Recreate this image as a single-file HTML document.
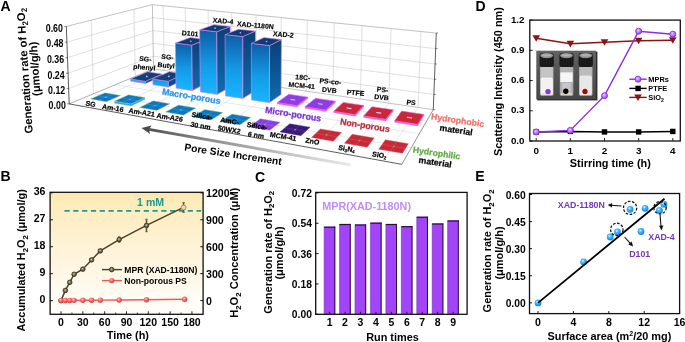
<!DOCTYPE html>
<html><head><meta charset="utf-8"><style>
html,body{margin:0;padding:0;background:#fff;}
body{width:685px;height:342px;overflow:hidden;}
svg{display:block;font-family:"Liberation Sans",sans-serif;will-change:transform;filter:blur(0.3px);}
</style></head><body>
<svg width="685" height="342" viewBox="0 0 685 342" font-family="Liberation Sans, sans-serif">
<rect width="685" height="342" fill="#fff"/>
<text x="0.40" y="10.60" font-size="14" font-weight="bold" fill="#000" text-anchor="start" >A</text>
<g transform="translate(32.8 133.3) rotate(-93.9)"><text x="0" y="0" font-size="11.25" font-weight="bold">Generation rate of H<tspan font-size="7.9" dy="2.5">2</tspan><tspan dy="-2.5">O</tspan><tspan font-size="7.9" dy="2.5">2</tspan></text></g>
<g transform="translate(40.5 95.8) rotate(-93.9)"><text x="0" y="0" font-size="11.25" font-weight="bold">(μmol/g/h)</text></g>
<polygon points="69.19,103.90 66.32,26.44 152.37,4.66 153.60,68.87" fill="#fff" stroke="none" stroke-width="0.5" />
<polygon points="153.60,68.87 152.37,4.66 436.30,33.06 433.28,109.63" fill="#fff" stroke="none" stroke-width="0.5" />
<polygon points="69.19,103.90 153.60,68.87 433.28,109.63 401.76,164.33" fill="#fff" stroke="none" stroke-width="0.5" />
<line x1="68.63" y1="88.61" x2="153.35" y2="56.16" stroke="#c4c4c4" stroke-width="0.55" />
<line x1="153.35" y1="56.16" x2="433.88" y2="94.51" stroke="#c4c4c4" stroke-width="0.55" />
<line x1="68.06" y1="73.22" x2="153.11" y2="43.39" stroke="#c4c4c4" stroke-width="0.55" />
<line x1="153.11" y1="43.39" x2="434.48" y2="79.30" stroke="#c4c4c4" stroke-width="0.55" />
<line x1="67.48" y1="57.72" x2="152.86" y2="30.55" stroke="#c4c4c4" stroke-width="0.55" />
<line x1="152.86" y1="30.55" x2="435.08" y2="63.98" stroke="#c4c4c4" stroke-width="0.55" />
<line x1="66.91" y1="42.13" x2="152.61" y2="17.64" stroke="#c4c4c4" stroke-width="0.55" />
<line x1="152.61" y1="17.64" x2="435.69" y2="48.57" stroke="#c4c4c4" stroke-width="0.55" />
<line x1="66.32" y1="26.44" x2="152.37" y2="4.66" stroke="#999" stroke-width="0.6" />
<line x1="152.37" y1="4.66" x2="436.30" y2="33.06" stroke="#999" stroke-width="0.6" />
<line x1="93.48" y1="93.82" x2="91.13" y2="20.16" stroke="#c4c4c4" stroke-width="0.55" />
<line x1="135.39" y1="76.42" x2="133.85" y2="9.35" stroke="#c4c4c4" stroke-width="0.55" />
<line x1="164.27" y1="70.42" x2="163.18" y2="5.74" stroke="#c4c4c4" stroke-width="0.55" />
<line x1="186.13" y1="73.61" x2="185.31" y2="7.96" stroke="#c4c4c4" stroke-width="0.55" />
<line x1="208.67" y1="76.89" x2="208.15" y2="10.24" stroke="#c4c4c4" stroke-width="0.55" />
<line x1="231.93" y1="80.28" x2="231.73" y2="12.60" stroke="#c4c4c4" stroke-width="0.55" />
<line x1="255.94" y1="83.78" x2="256.09" y2="15.04" stroke="#c4c4c4" stroke-width="0.55" />
<line x1="280.75" y1="87.40" x2="281.26" y2="17.55" stroke="#c4c4c4" stroke-width="0.55" />
<line x1="306.39" y1="91.14" x2="307.29" y2="20.16" stroke="#c4c4c4" stroke-width="0.55" />
<line x1="332.90" y1="95.00" x2="334.22" y2="22.85" stroke="#c4c4c4" stroke-width="0.55" />
<line x1="360.34" y1="99.00" x2="362.11" y2="25.64" stroke="#c4c4c4" stroke-width="0.55" />
<line x1="388.74" y1="103.14" x2="390.99" y2="28.53" stroke="#c4c4c4" stroke-width="0.55" />
<line x1="418.17" y1="107.43" x2="420.92" y2="31.52" stroke="#c4c4c4" stroke-width="0.55" />
<line x1="153.60" y1="68.87" x2="152.37" y2="4.66" stroke="#999" stroke-width="0.6" />
<line x1="81.37" y1="106.11" x2="164.27" y2="70.42" stroke="#d0d0d0" stroke-width="0.5" />
<line x1="106.42" y1="110.66" x2="186.13" y2="73.61" stroke="#d0d0d0" stroke-width="0.5" />
<line x1="132.43" y1="115.39" x2="208.67" y2="76.89" stroke="#d0d0d0" stroke-width="0.5" />
<line x1="159.47" y1="120.30" x2="231.93" y2="80.28" stroke="#d0d0d0" stroke-width="0.5" />
<line x1="187.58" y1="125.41" x2="255.94" y2="83.78" stroke="#d0d0d0" stroke-width="0.5" />
<line x1="216.83" y1="130.72" x2="280.75" y2="87.40" stroke="#d0d0d0" stroke-width="0.5" />
<line x1="247.31" y1="136.26" x2="306.39" y2="91.14" stroke="#d0d0d0" stroke-width="0.5" />
<line x1="279.08" y1="142.03" x2="332.90" y2="95.00" stroke="#d0d0d0" stroke-width="0.5" />
<line x1="312.23" y1="148.06" x2="360.34" y2="99.00" stroke="#d0d0d0" stroke-width="0.5" />
<line x1="346.85" y1="154.35" x2="388.74" y2="103.14" stroke="#d0d0d0" stroke-width="0.5" />
<line x1="383.04" y1="160.92" x2="418.17" y2="107.43" stroke="#d0d0d0" stroke-width="0.5" />
<line x1="93.48" y1="93.82" x2="411.11" y2="148.10" stroke="#d0d0d0" stroke-width="0.5" />
<line x1="115.44" y1="84.71" x2="419.37" y2="133.78" stroke="#d0d0d0" stroke-width="0.5" />
<line x1="135.39" y1="76.42" x2="426.71" y2="121.04" stroke="#d0d0d0" stroke-width="0.5" />
<line x1="69.19" y1="103.90" x2="153.60" y2="68.87" stroke="#777" stroke-width="0.6" />
<line x1="153.60" y1="68.87" x2="433.28" y2="109.63" stroke="#999" stroke-width="0.6" />
<line x1="433.28" y1="109.63" x2="401.76" y2="164.33" stroke="#666" stroke-width="0.7" />
<line x1="69.19" y1="103.90" x2="401.76" y2="164.33" stroke="#333" stroke-width="0.8" />
<line x1="69.19" y1="103.90" x2="66.32" y2="26.44" stroke="#333" stroke-width="0.8" />
<line x1="433.28" y1="109.63" x2="436.30" y2="33.06" stroke="#333" stroke-width="0.8" />
<line x1="433.28" y1="109.63" x2="435.08" y2="109.63" stroke="#333" stroke-width="0.6" />
<line x1="433.88" y1="94.51" x2="435.68" y2="94.51" stroke="#333" stroke-width="0.6" />
<line x1="434.48" y1="79.30" x2="436.28" y2="79.30" stroke="#333" stroke-width="0.6" />
<line x1="435.08" y1="63.98" x2="436.88" y2="63.98" stroke="#333" stroke-width="0.6" />
<line x1="435.69" y1="48.57" x2="437.49" y2="48.57" stroke="#333" stroke-width="0.6" />
<line x1="436.30" y1="33.06" x2="438.10" y2="33.06" stroke="#333" stroke-width="0.6" />
<line x1="67.19" y1="103.90" x2="69.19" y2="103.90" stroke="#333" stroke-width="0.6" />
<g transform="translate(65.79 109.20) scale(0.96 1.1)"><text x="0" y="0" font-size="9.2" font-weight="bold" text-anchor="end">0.00</text></g>
<line x1="66.63" y1="88.61" x2="68.63" y2="88.61" stroke="#333" stroke-width="0.6" />
<g transform="translate(65.23 93.91) scale(0.96 1.1)"><text x="0" y="0" font-size="9.2" font-weight="bold" text-anchor="end">0.12</text></g>
<line x1="66.06" y1="73.22" x2="68.06" y2="73.22" stroke="#333" stroke-width="0.6" />
<g transform="translate(64.66 78.52) scale(0.96 1.1)"><text x="0" y="0" font-size="9.2" font-weight="bold" text-anchor="end">0.24</text></g>
<line x1="65.48" y1="57.72" x2="67.48" y2="57.72" stroke="#333" stroke-width="0.6" />
<g transform="translate(64.08 63.02) scale(0.96 1.1)"><text x="0" y="0" font-size="9.2" font-weight="bold" text-anchor="end">0.36</text></g>
<line x1="64.91" y1="42.13" x2="66.91" y2="42.13" stroke="#333" stroke-width="0.6" />
<g transform="translate(63.51 47.43) scale(0.96 1.1)"><text x="0" y="0" font-size="9.2" font-weight="bold" text-anchor="end">0.48</text></g>
<line x1="64.32" y1="26.44" x2="66.32" y2="26.44" stroke="#333" stroke-width="0.6" />
<g transform="translate(62.92 32.44) scale(0.96 1.1)"><text x="0" y="0" font-size="9.2" font-weight="bold" text-anchor="end">0.60</text></g>
<defs><linearGradient id="barF" x1="0" y1="0" x2="0" y2="1"><stop offset="0" stop-color="#0e5da8"/><stop offset="0.55" stop-color="#139be6"/><stop offset="1" stop-color="#19b6ff"/></linearGradient><linearGradient id="barF2" x1="0" y1="0" x2="0" y2="1"><stop offset="0" stop-color="#1590e0"/><stop offset="1" stop-color="#1cb4ff"/></linearGradient><linearGradient id="barS" x1="0" y1="0" x2="0" y2="1"><stop offset="0" stop-color="#0a3f78"/><stop offset="1" stop-color="#0f6cb0"/></linearGradient><linearGradient id="arrowG" x1="0" y1="0" x2="1" y2="0"><stop offset="0" stop-color="#505050"/><stop offset="0.3" stop-color="#8c8c8c"/><stop offset="0.7" stop-color="#c4c4c4"/><stop offset="1" stop-color="#e8e8e8"/></linearGradient></defs>
<polygon points="145.49,83.59 162.14,76.21 162.10,74.02 145.44,81.30" fill="#0a3f78" stroke="#e884f0" stroke-width="0.5" />
<polygon points="130.55,81.24 145.49,83.59 145.44,81.30 130.50,78.98" fill="#18a8f4" stroke="#e884f0" stroke-width="0.5" />
<polygon points="130.50,78.98 145.44,81.30 162.10,74.02 147.59,71.86" fill="#0c4478" stroke="#e884f0" stroke-width="0.5" />
<polygon points="168.28,87.17 184.24,79.53 184.17,73.95 168.18,81.36" fill="#0a4a88" stroke="#e884f0" stroke-width="0.5" />
<polygon points="152.85,84.74 168.28,87.17 168.18,81.36 152.74,78.99" fill="url(#barF2)" stroke="#e884f0" stroke-width="0.5" />
<polygon points="152.74,78.99 168.18,81.36 184.17,73.95 169.19,71.76" fill="#0c4478" stroke="#e884f0" stroke-width="0.5" />
<circle cx="146.73" cy="76.38" r="0.9" fill="#f0a0f8"/>
<circle cx="168.88" cy="76.35" r="0.9" fill="#f0a0f8"/>
<polygon points="192.17,90.69 206.39,83.29 206.03,39.49 191.66,45.14" fill="url(#barS)" stroke="#e884f0" stroke-width="0.6" />
<polygon points="176.00,88.15 192.17,90.69 191.66,45.14 175.35,43.09" fill="url(#barF)" stroke="#e884f0" stroke-width="0.6" />
<polygon points="175.35,43.09 191.66,45.14 206.03,39.49 190.20,37.59" fill="#0b3d74" stroke="#e884f0" stroke-width="0.6" />
<circle cx="190.80" cy="41.25" r="0.8" fill="#f0a0f8"/>
<polygon points="217.00,94.58 230.46,86.91 230.27,26.53 216.62,31.75" fill="url(#barS)" stroke="#e884f0" stroke-width="0.6" />
<polygon points="200.27,91.96 217.00,94.58 216.62,31.75 199.68,29.81" fill="url(#barF)" stroke="#e884f0" stroke-width="0.6" />
<polygon points="199.68,29.81 216.62,31.75 230.27,26.53 213.86,24.73" fill="#0b3d74" stroke="#e884f0" stroke-width="0.6" />
<circle cx="215.08" cy="28.13" r="0.8" fill="#f0a0f8"/>
<polygon points="242.70,98.62 255.33,90.65 255.45,31.09 242.66,36.59" fill="url(#barS)" stroke="#e884f0" stroke-width="0.6" />
<polygon points="225.38,95.90 242.70,98.62 242.66,36.59 225.12,34.57" fill="url(#barF)" stroke="#e884f0" stroke-width="0.6" />
<polygon points="225.12,34.57 242.66,36.59 255.45,31.09 238.49,29.21" fill="#0b3d74" stroke="#e884f0" stroke-width="0.6" />
<circle cx="240.39" cy="32.79" r="0.8" fill="#f0a0f8"/>
<polygon points="269.31,102.80 281.06,94.52 281.47,39.57 269.60,45.54" fill="url(#barS)" stroke="#e884f0" stroke-width="0.6" />
<polygon points="251.37,99.98 269.31,102.80 269.60,45.54 251.45,43.38" fill="url(#barF)" stroke="#e884f0" stroke-width="0.6" />
<polygon points="251.45,43.38 269.60,45.54 281.47,39.57 263.93,37.57" fill="#0b3d74" stroke="#e884f0" stroke-width="0.6" />
<circle cx="266.55" cy="41.43" r="0.8" fill="#f0a0f8"/>
<g transform="translate(0.3 1.0)">
<polygon points="276.98,102.99 296.84,106.10 307.58,97.58 307.60,96.13 296.86,104.59 276.99,101.51" fill="#f060d8" stroke="#f060d8" stroke-width="0.36" />
<polygon points="276.99,101.51 296.86,104.59 307.60,96.13 288.42,93.28" fill="#8a3ee6" stroke="#f060d8" stroke-width="0.6" />
<line x1="290.63" y1="98.49" x2="294.42" y2="99.07" stroke="#f8c8f4" stroke-width="1.1" stroke-linecap="round"/>
<polygon points="304.71,107.33 325.30,110.55 335.01,101.69 335.04,100.22 325.33,109.02 304.73,105.82" fill="#f060d8" stroke="#f060d8" stroke-width="0.36" />
<polygon points="304.73,105.82 325.33,109.02 335.04,100.22 315.18,97.26" fill="#8a3ee6" stroke="#f060d8" stroke-width="0.6" />
<line x1="318.15" y1="102.68" x2="322.08" y2="103.27" stroke="#f8c8f4" stroke-width="1.1" stroke-linecap="round"/>
<polygon points="333.46,111.82 354.83,115.17 363.43,105.94 363.47,104.45 354.87,113.61 333.49,110.29" fill="#f060d8" stroke="#f060d8" stroke-width="0.36" />
<polygon points="333.49,110.29 354.87,113.61 363.47,104.45 342.90,101.39" fill="#c8283a" stroke="#f060d8" stroke-width="0.6" />
<line x1="346.68" y1="107.01" x2="350.75" y2="107.63" stroke="#f8c8f4" stroke-width="1.1" stroke-linecap="round"/>
<polygon points="363.30,116.49 385.49,119.96 392.89,110.35 392.93,108.83 385.54,118.37 363.34,114.92" fill="#f060d8" stroke="#f060d8" stroke-width="0.36" />
<polygon points="363.34,114.92 385.54,118.37 392.93,108.83 371.61,105.66" fill="#c8283a" stroke="#f060d8" stroke-width="0.6" />
<line x1="376.26" y1="111.51" x2="380.49" y2="112.15" stroke="#f8c8f4" stroke-width="1.1" stroke-linecap="round"/>
<polygon points="394.29,121.33 417.35,124.94 423.44,114.93 423.50,113.38 417.41,123.32 394.34,119.74" fill="#f060d8" stroke="#f060d8" stroke-width="0.36" />
<polygon points="394.34,119.74 417.41,123.32 423.50,113.38 401.38,110.09" fill="#c8283a" stroke="#f060d8" stroke-width="0.6" />
<line x1="406.96" y1="116.18" x2="411.35" y2="116.84" stroke="#f8c8f4" stroke-width="1.1" stroke-linecap="round"/>
</g>
<g transform="translate(0.8 1.4)">
<polygon points="89.52,97.55 105.61,100.35 119.95,94.03 104.21,91.39" fill="#0a78c8" stroke="#c8d850" stroke-width="0.4" />
<line x1="97.52" y1="98.94" x2="112.04" y2="92.70" stroke="#5aa0e0" stroke-width="0.35" />
<line x1="96.99" y1="94.42" x2="112.90" y2="97.14" stroke="#5aa0e0" stroke-width="0.35" />
<circle cx="104.90" cy="95.77" r="0.9" fill="#80b030"/>
<polygon points="113.67,101.76 130.35,104.66 144.14,98.08 144.10,96.12 130.30,102.63 113.62,99.75" fill="#20a8f0" stroke="#c8d850" stroke-width="0.24" />
<polygon points="113.62,99.75 130.30,102.63 144.10,96.12 127.79,93.41" fill="#0a78c8" stroke="#c8d850" stroke-width="0.4" />
<line x1="121.91" y1="101.19" x2="135.90" y2="94.76" stroke="#5aa0e0" stroke-width="0.35" />
<line x1="120.82" y1="96.53" x2="137.31" y2="99.32" stroke="#5aa0e0" stroke-width="0.35" />
<circle cx="129.02" cy="97.92" r="0.9" fill="#80b030"/>
<polygon points="138.71,106.12 156.01,109.13 169.19,102.29 152.31,99.45" fill="#0a78c8" stroke="#c8d850" stroke-width="0.4" />
<line x1="147.31" y1="107.62" x2="160.70" y2="100.86" stroke="#5aa0e0" stroke-width="0.35" />
<line x1="145.62" y1="102.73" x2="162.71" y2="105.65" stroke="#5aa0e0" stroke-width="0.35" />
<circle cx="154.12" cy="104.18" r="0.9" fill="#80b030"/>
<polygon points="164.69,110.64 182.64,113.77 195.17,106.64 177.66,103.71" fill="#0a78c8" stroke="#c8d850" stroke-width="0.4" />
<line x1="173.61" y1="112.20" x2="186.36" y2="105.17" stroke="#5aa0e0" stroke-width="0.35" />
<line x1="171.29" y1="107.12" x2="189.01" y2="110.15" stroke="#5aa0e0" stroke-width="0.35" />
<circle cx="180.09" cy="108.62" r="0.9" fill="#80b030"/>
<polygon points="191.66,115.34 210.31,118.59 222.11,111.16 203.95,108.12" fill="#0a78c8" stroke="#c8d850" stroke-width="0.4" />
<line x1="200.92" y1="116.96" x2="212.97" y2="109.63" stroke="#5aa0e0" stroke-width="0.35" />
<line x1="197.91" y1="111.67" x2="216.31" y2="114.81" stroke="#5aa0e0" stroke-width="0.35" />
<circle cx="207.05" cy="113.23" r="0.9" fill="#80b030"/>
<polygon points="219.68,120.22 239.07,123.60 250.08,115.85 231.22,112.69" fill="#0a78c8" stroke="#c8d850" stroke-width="0.4" />
<line x1="229.31" y1="121.90" x2="240.59" y2="114.26" stroke="#5aa0e0" stroke-width="0.35" />
<line x1="225.55" y1="116.39" x2="244.67" y2="119.66" stroke="#5aa0e0" stroke-width="0.35" />
<circle cx="235.05" cy="118.01" r="0.9" fill="#80b030"/>
<polygon points="248.81,125.30 268.98,128.81 279.13,120.73 259.54,117.44" fill="#8a3ee6" stroke="#a070e0" stroke-width="0.4" />
<line x1="258.83" y1="127.04" x2="269.28" y2="119.07" stroke="#b088f0" stroke-width="0.35" />
<line x1="254.27" y1="121.30" x2="274.15" y2="124.69" stroke="#b088f0" stroke-width="0.35" />
<circle cx="264.15" cy="122.99" r="0.9" fill="#80b030"/>
<polygon points="279.12,130.58 300.12,134.23 309.34,125.79 288.97,122.38" fill="#3b1a7a" stroke="#6040a0" stroke-width="0.4" />
<line x1="289.55" y1="132.39" x2="299.09" y2="124.07" stroke="#7a5ab0" stroke-width="0.35" />
<line x1="284.14" y1="126.40" x2="304.82" y2="129.94" stroke="#7a5ab0" stroke-width="0.35" />
<circle cx="294.41" cy="128.16" r="0.9" fill="#80b030"/>
<polygon points="310.68,136.07 332.57,139.89 340.76,131.06 319.57,127.51" fill="#c8283a" stroke="#d86050" stroke-width="0.4" />
<line x1="321.55" y1="137.97" x2="330.09" y2="129.28" stroke="#e07070" stroke-width="0.35" />
<line x1="315.21" y1="131.71" x2="336.74" y2="135.39" stroke="#e07070" stroke-width="0.35" />
<circle cx="325.90" cy="133.54" r="0.9" fill="#80b030"/>
<polygon points="343.58,141.80 366.41,145.78 373.48,136.55 351.41,132.85" fill="#c8283a" stroke="#d86050" stroke-width="0.4" />
<line x1="354.91" y1="143.78" x2="362.37" y2="134.69" stroke="#e07070" stroke-width="0.35" />
<line x1="347.57" y1="137.24" x2="370.01" y2="141.08" stroke="#e07070" stroke-width="0.35" />
<circle cx="358.71" cy="139.15" r="0.9" fill="#80b030"/>
<polygon points="377.90,147.78 401.73,151.93 407.57,142.27 384.57,138.41" fill="#c8283a" stroke="#d86050" stroke-width="0.4" />
<line x1="389.73" y1="149.84" x2="395.99" y2="140.33" stroke="#e07070" stroke-width="0.35" />
<line x1="381.30" y1="143.01" x2="404.71" y2="147.01" stroke="#e07070" stroke-width="0.35" />
<circle cx="392.92" cy="144.99" r="0.9" fill="#80b030"/>
</g>
<g transform="translate(90.60 104.00) rotate(9.0) skewX(-2) scale(1 1)"><text x="0" y="2.45" font-size="7.0" font-weight="bold" fill="#000" text-anchor="middle" stroke="#000" stroke-width="0.22">SG</text></g>
<g transform="translate(112.90 108.00) rotate(9.0) skewX(-2) scale(1 1)"><text x="0" y="2.45" font-size="7.0" font-weight="bold" fill="#000" text-anchor="middle" stroke="#000" stroke-width="0.22">Am-16</text></g>
<g transform="translate(141.70 112.30) rotate(9.0) skewX(-2) scale(1 1)"><text x="0" y="2.45" font-size="7.0" font-weight="bold" fill="#000" text-anchor="middle" stroke="#000" stroke-width="0.22">Am-A21</text></g>
<g transform="translate(169.70 117.30) rotate(9.0) skewX(-2) scale(1 1)"><text x="0" y="2.45" font-size="7.0" font-weight="bold" fill="#000" text-anchor="middle" stroke="#000" stroke-width="0.22">Am-A26</text></g>
<g transform="translate(202.00 116.00) rotate(9.0) skewX(-2) scale(1 1)"><text x="0" y="2.45" font-size="7.0" font-weight="bold" fill="#000" text-anchor="middle" stroke="#000" stroke-width="0.22">Silica-</text></g>
<g transform="translate(200.70 125.70) rotate(9.0) skewX(-2) scale(1 1)"><text x="0" y="2.45" font-size="7.0" font-weight="bold" fill="#000" text-anchor="middle" stroke="#000" stroke-width="0.22">30 nm</text></g>
<g transform="translate(229.70 121.00) rotate(9.0) skewX(-2) scale(1 1)"><text x="0" y="2.45" font-size="7.0" font-weight="bold" fill="#000" text-anchor="middle" stroke="#000" stroke-width="0.22">AmC-</text></g>
<g transform="translate(229.20 129.60) rotate(9.0) skewX(-2) scale(1 1)"><text x="0" y="2.45" font-size="7.0" font-weight="bold" fill="#000" text-anchor="middle" stroke="#000" stroke-width="0.22">50WX2</text></g>
<g transform="translate(257.20 126.00) rotate(9.0) skewX(-2) scale(1 1)"><text x="0" y="2.45" font-size="7.0" font-weight="bold" fill="#000" text-anchor="middle" stroke="#000" stroke-width="0.22">Silica-</text></g>
<g transform="translate(256.00 135.00) rotate(9.0) skewX(-2) scale(1 1)"><text x="0" y="2.45" font-size="7.0" font-weight="bold" fill="#000" text-anchor="middle" stroke="#000" stroke-width="0.22">6 nm</text></g>
<g transform="translate(283.10 136.50) rotate(9.0) skewX(-2) scale(1 1)"><text x="0" y="2.45" font-size="7.0" font-weight="bold" fill="#000" text-anchor="middle" stroke="#000" stroke-width="0.22">MCM-41</text></g>
<g transform="translate(312.50 141.30) rotate(9.0) skewX(-2) scale(1 1)"><text x="0" y="2.45" font-size="7.0" font-weight="bold" fill="#000" text-anchor="middle" stroke="#000" stroke-width="0.22">ZnO</text></g>
<g transform="translate(346.70 148.60) rotate(9.0) skewX(-2) scale(1 1)"><text x="0" y="2.45" font-size="7.0" font-weight="bold" fill="#000" text-anchor="middle" stroke="#000" stroke-width="0.22">Si<tspan font-size="4.5" dy="1.2">3</tspan><tspan dy="-1.2">N</tspan><tspan font-size="4.5" dy="1.2">4</tspan></text></g>
<g transform="translate(379.50 154.90) rotate(9.0) skewX(-2) scale(1 1)"><text x="0" y="2.45" font-size="7.0" font-weight="bold" fill="#000" text-anchor="middle" stroke="#000" stroke-width="0.22">SiO<tspan font-size="4.5" dy="1.2">2</tspan></text></g>
<g transform="translate(145.40 59.00) rotate(5) skewX(-2) scale(1 1)"><text x="0" y="2.42" font-size="6.9" font-weight="bold" fill="#000" text-anchor="middle" stroke="#000" stroke-width="0.15">SG-</text></g>
<g transform="translate(144.30 67.20) rotate(5) skewX(-2) scale(1 1)"><text x="0" y="2.42" font-size="6.9" font-weight="bold" fill="#000" text-anchor="middle" stroke="#000" stroke-width="0.15">phenyl</text></g>
<g transform="translate(167.50 56.90) rotate(5) skewX(-2) scale(1 1)"><text x="0" y="2.42" font-size="6.9" font-weight="bold" fill="#000" text-anchor="middle" stroke="#000" stroke-width="0.15">SG-</text></g>
<g transform="translate(166.20 65.30) rotate(5) skewX(-2) scale(1 1)"><text x="0" y="2.42" font-size="6.9" font-weight="bold" fill="#000" text-anchor="middle" stroke="#000" stroke-width="0.15">Butyl</text></g>
<g transform="translate(190.10 33.50) rotate(5) skewX(-2) scale(1 1)"><text x="0" y="2.42" font-size="6.9" font-weight="bold" fill="#000" text-anchor="middle" stroke="#000" stroke-width="0.15">D101</text></g>
<g transform="translate(223.00 21.00) rotate(5) skewX(-2) scale(1 1)"><text x="0" y="2.42" font-size="6.9" font-weight="bold" fill="#000" text-anchor="middle" stroke="#000" stroke-width="0.15">XAD-4</text></g>
<g transform="translate(255.40 25.30) rotate(5) skewX(-2) scale(1 1)"><text x="0" y="2.42" font-size="6.9" font-weight="bold" fill="#000" text-anchor="middle" stroke="#000" stroke-width="0.15">XAD-1180N</text></g>
<g transform="translate(283.30 34.50) rotate(5) skewX(-2) scale(1 1)"><text x="0" y="2.42" font-size="6.9" font-weight="bold" fill="#000" text-anchor="middle" stroke="#000" stroke-width="0.15">XAD-2</text></g>
<g transform="translate(302.80 77.40) rotate(5) skewX(-2) scale(1 1)"><text x="0" y="2.42" font-size="6.9" font-weight="bold" fill="#000" text-anchor="middle" stroke="#000" stroke-width="0.15">18C-</text></g>
<g transform="translate(301.70 85.60) rotate(5) skewX(-2) scale(1 1)"><text x="0" y="2.42" font-size="6.9" font-weight="bold" fill="#000" text-anchor="middle" stroke="#000" stroke-width="0.15">MCM-41</text></g>
<g transform="translate(330.40 81.50) rotate(5) skewX(-2) scale(1 1)"><text x="0" y="2.42" font-size="6.9" font-weight="bold" fill="#000" text-anchor="middle" stroke="#000" stroke-width="0.15">PS-co-</text></g>
<g transform="translate(329.40 90.10) rotate(5) skewX(-2) scale(1 1)"><text x="0" y="2.42" font-size="6.9" font-weight="bold" fill="#000" text-anchor="middle" stroke="#000" stroke-width="0.15">DVB</text></g>
<g transform="translate(355.60 92.80) rotate(5) skewX(-2) scale(1 1)"><text x="0" y="2.42" font-size="6.9" font-weight="bold" fill="#000" text-anchor="middle" stroke="#000" stroke-width="0.15">PTFE</text></g>
<g transform="translate(382.60 89.70) rotate(5) skewX(-2) scale(1 1)"><text x="0" y="2.42" font-size="6.9" font-weight="bold" fill="#000" text-anchor="middle" stroke="#000" stroke-width="0.15">PS-</text></g>
<g transform="translate(381.60 97.30) rotate(5) skewX(-2) scale(1 1)"><text x="0" y="2.42" font-size="6.9" font-weight="bold" fill="#000" text-anchor="middle" stroke="#000" stroke-width="0.15">DVB</text></g>
<g transform="translate(411.00 102.40) rotate(5) skewX(-2) scale(1 1)"><text x="0" y="2.42" font-size="6.9" font-weight="bold" fill="#000" text-anchor="middle" stroke="#000" stroke-width="0.15">PS</text></g>
<g transform="translate(191.40 96.20) rotate(9.5) skewX(0) scale(1 1)"><text x="0" y="3.11" font-size="8.9" font-weight="bold" fill="#2696ec" text-anchor="middle" stroke="#2696ec" stroke-width="0.25">Macro-porous</text></g>
<g transform="translate(293.20 114.10) rotate(9) skewX(0) scale(1 1)"><text x="0" y="3.11" font-size="8.9" font-weight="bold" fill="#7a30d0" text-anchor="middle" stroke="#7a30d0" stroke-width="0.25">Micro-porous</text></g>
<g transform="translate(365.00 125.30) rotate(9) skewX(0) scale(1 1)"><text x="0" y="3.11" font-size="8.9" font-weight="bold" fill="#c02a36" text-anchor="middle" stroke="#c02a36" stroke-width="0.25">Non-porous</text></g>
<g transform="translate(457.70 120.20) rotate(8.5) skewX(0) scale(1 1)"><text x="0" y="3.04" font-size="8.7" font-weight="bold" fill="#f0706a" text-anchor="middle" stroke="#f0706a" stroke-width="0.25">Hydrophobic</text></g>
<g transform="translate(456.20 130.00) rotate(8.5) skewX(0) scale(1 1)"><text x="0" y="3.04" font-size="8.7" font-weight="bold" fill="#000" text-anchor="middle" stroke="#000" stroke-width="0.2">material</text></g>
<g transform="translate(436.70 153.00) rotate(8.5) skewX(0) scale(1 1)"><text x="0" y="3.04" font-size="8.7" font-weight="bold" fill="#62aa44" text-anchor="middle" stroke="#62aa44" stroke-width="0.25">Hydrophilic</text></g>
<g transform="translate(435.20 162.20) rotate(8.5) skewX(0) scale(1 1)"><text x="0" y="3.04" font-size="8.7" font-weight="bold" fill="#000" text-anchor="middle" stroke="#000" stroke-width="0.2">material</text></g>
<g transform="translate(141.5 128.1) rotate(10)"><rect x="6" y="-1.45" width="206" height="2.9" fill="url(#arrowG)"/><polygon points="0,0 9.5,-4.4 7.5,0 9.5,4.4" fill="#4a4a4a"/></g>
<g transform="translate(233.10 154.20) rotate(8.6) skewX(0) scale(1 1)"><text x="0" y="3.60" font-size="10.3" font-weight="bold" fill="#000" text-anchor="middle" >Pore Size Increment</text></g>
<text x="0.50" y="181.20" font-size="14" font-weight="bold" fill="#000" text-anchor="start" >B</text>
<defs><linearGradient id="bbg" x1="0" y1="0" x2="0" y2="1"><stop offset="0" stop-color="#fde7b0"/><stop offset="0.1" stop-color="#feecbc"/><stop offset="0.5" stop-color="#fff4da"/><stop offset="0.85" stop-color="#fffcf4"/><stop offset="1" stop-color="#fffefb"/></linearGradient><radialGradient id="mk1" cx="0.45" cy="0.42" r="0.6"><stop offset="0" stop-color="#d8d2c0"/><stop offset="0.35" stop-color="#8a8268"/><stop offset="1" stop-color="#3e3824"/></radialGradient><radialGradient id="mk2" cx="0.4" cy="0.35" r="0.7"><stop offset="0" stop-color="#ffc0c0"/><stop offset="0.5" stop-color="#f06060"/><stop offset="1" stop-color="#d83838"/></radialGradient></defs>
<rect x="50.1" y="192.3" width="153.0" height="122.0" fill="url(#bbg)" stroke="#111" stroke-width="1.3"/>
<line x1="50.10" y1="300.60" x2="52.90" y2="300.60" stroke="#111" stroke-width="1" />
<text x="45.50" y="303.10" font-size="10.6" font-weight="bold" fill="#000" text-anchor="end" >0</text>
<line x1="50.10" y1="273.65" x2="52.90" y2="273.65" stroke="#111" stroke-width="1" />
<text x="45.50" y="276.15" font-size="10.6" font-weight="bold" fill="#000" text-anchor="end" >9</text>
<line x1="50.10" y1="246.70" x2="52.90" y2="246.70" stroke="#111" stroke-width="1" />
<text x="45.50" y="249.20" font-size="10.6" font-weight="bold" fill="#000" text-anchor="end" >18</text>
<line x1="50.10" y1="219.75" x2="52.90" y2="219.75" stroke="#111" stroke-width="1" />
<text x="45.50" y="222.25" font-size="10.6" font-weight="bold" fill="#000" text-anchor="end" >27</text>
<line x1="50.10" y1="192.80" x2="52.90" y2="192.80" stroke="#111" stroke-width="1" />
<text x="45.50" y="195.30" font-size="10.6" font-weight="bold" fill="#000" text-anchor="end" >36</text>
<line x1="200.30" y1="300.60" x2="203.10" y2="300.60" stroke="#111" stroke-width="1" />
<text x="206.00" y="304.60" font-size="10.6" font-weight="bold" fill="#000" text-anchor="start" >0</text>
<line x1="200.30" y1="273.65" x2="203.10" y2="273.65" stroke="#111" stroke-width="1" />
<text x="206.00" y="277.65" font-size="10.6" font-weight="bold" fill="#000" text-anchor="start" >300</text>
<line x1="200.30" y1="246.70" x2="203.10" y2="246.70" stroke="#111" stroke-width="1" />
<text x="206.00" y="250.70" font-size="10.6" font-weight="bold" fill="#000" text-anchor="start" >600</text>
<line x1="200.30" y1="219.75" x2="203.10" y2="219.75" stroke="#111" stroke-width="1" />
<text x="206.00" y="223.75" font-size="10.6" font-weight="bold" fill="#000" text-anchor="start" >900</text>
<line x1="200.30" y1="192.80" x2="203.10" y2="192.80" stroke="#111" stroke-width="1" />
<text x="206.00" y="196.80" font-size="10.6" font-weight="bold" fill="#000" text-anchor="start" >1200</text>
<line x1="61.00" y1="314.30" x2="61.00" y2="311.30" stroke="#111" stroke-width="0.9" />
<text x="61.00" y="326.20" font-size="10.5" font-weight="bold" fill="#000" text-anchor="middle" >0</text>
<line x1="82.83" y1="314.30" x2="82.83" y2="311.30" stroke="#111" stroke-width="0.9" />
<text x="82.83" y="326.20" font-size="10.5" font-weight="bold" fill="#000" text-anchor="middle" >30</text>
<line x1="104.65" y1="314.30" x2="104.65" y2="311.30" stroke="#111" stroke-width="0.9" />
<text x="104.65" y="326.20" font-size="10.5" font-weight="bold" fill="#000" text-anchor="middle" >60</text>
<line x1="126.48" y1="314.30" x2="126.48" y2="311.30" stroke="#111" stroke-width="0.9" />
<text x="126.48" y="326.20" font-size="10.5" font-weight="bold" fill="#000" text-anchor="middle" >90</text>
<line x1="148.30" y1="314.30" x2="148.30" y2="311.30" stroke="#111" stroke-width="0.9" />
<text x="148.30" y="326.20" font-size="10.5" font-weight="bold" fill="#000" text-anchor="middle" >120</text>
<line x1="170.12" y1="314.30" x2="170.12" y2="311.30" stroke="#111" stroke-width="0.9" />
<text x="170.12" y="326.20" font-size="10.5" font-weight="bold" fill="#000" text-anchor="middle" >150</text>
<line x1="191.95" y1="314.30" x2="191.95" y2="311.30" stroke="#111" stroke-width="0.9" />
<text x="191.95" y="326.20" font-size="10.5" font-weight="bold" fill="#000" text-anchor="middle" >180</text>
<line x1="71.91" y1="314.30" x2="71.91" y2="312.50" stroke="#111" stroke-width="0.8" />
<line x1="93.74" y1="314.30" x2="93.74" y2="312.50" stroke="#111" stroke-width="0.8" />
<line x1="115.56" y1="314.30" x2="115.56" y2="312.50" stroke="#111" stroke-width="0.8" />
<line x1="137.39" y1="314.30" x2="137.39" y2="312.50" stroke="#111" stroke-width="0.8" />
<line x1="159.21" y1="314.30" x2="159.21" y2="312.50" stroke="#111" stroke-width="0.8" />
<line x1="181.04" y1="314.30" x2="181.04" y2="312.50" stroke="#111" stroke-width="0.8" />
<text x="127.90" y="339.40" font-size="10.9" font-weight="bold" fill="#000" text-anchor="middle" >Time (h)</text>
<g transform="translate(25.2 331.6) rotate(-90)"><text x="0" y="0" font-size="10.9" font-weight="bold">Accumulated H<tspan font-size="7.8" dy="2.5">2</tspan><tspan dy="-2.5">O</tspan><tspan font-size="7.8" dy="2.5">2</tspan><tspan dy="-2.5"> (μmol/g)</tspan></text></g>
<g transform="translate(238 317.8) rotate(-90)"><text x="0" y="0" font-size="11.1" font-weight="bold">H<tspan font-size="7.8" dy="2.5">2</tspan><tspan dy="-2.5">O</tspan><tspan font-size="7.8" dy="2.5">2</tspan><tspan dy="-2.5"> Concentration (μM)</tspan></text></g>
<line x1="64.50" y1="210.90" x2="201.10" y2="210.90" stroke="#1c9a8e" stroke-width="1.6" stroke-dasharray="5.2 3.6"/>
<text x="150.60" y="206.10" font-size="10.6" font-weight="bold" fill="#1c9a8e" text-anchor="middle" >1 mM</text>
<polyline points="61.00,300.60 65.36,290.42 69.73,282.33 74.09,274.25 82.83,269.16 91.56,259.88 100.28,250.89 119.20,239.51 146.48,225.44 183.58,207.47" fill="none" stroke="#4a4028" stroke-width="1.45"/>
<line x1="119.20" y1="242.21" x2="119.20" y2="236.82" stroke="#5a5030" stroke-width="1.5" />
<line x1="118.00" y1="242.21" x2="120.40" y2="242.21" stroke="#5a5030" stroke-width="0.8" />
<line x1="118.00" y1="236.82" x2="120.40" y2="236.82" stroke="#5a5030" stroke-width="0.8" />
<line x1="146.48" y1="231.73" x2="146.48" y2="219.15" stroke="#5a5030" stroke-width="1.5" />
<line x1="145.28" y1="231.73" x2="147.68" y2="231.73" stroke="#5a5030" stroke-width="0.8" />
<line x1="145.28" y1="219.15" x2="147.68" y2="219.15" stroke="#5a5030" stroke-width="0.8" />
<line x1="183.58" y1="212.41" x2="183.58" y2="202.53" stroke="#5a5030" stroke-width="1.5" />
<line x1="182.38" y1="212.41" x2="184.78" y2="212.41" stroke="#5a5030" stroke-width="0.8" />
<line x1="182.38" y1="202.53" x2="184.78" y2="202.53" stroke="#5a5030" stroke-width="0.8" />
<circle cx="61.00" cy="300.60" r="2.3" fill="url(#mk1)" stroke="#3a3420" stroke-width="0.8"/>
<circle cx="65.36" cy="290.42" r="2.3" fill="url(#mk1)" stroke="#3a3420" stroke-width="0.8"/>
<circle cx="69.73" cy="282.33" r="2.3" fill="url(#mk1)" stroke="#3a3420" stroke-width="0.8"/>
<circle cx="74.09" cy="274.25" r="2.3" fill="url(#mk1)" stroke="#3a3420" stroke-width="0.8"/>
<circle cx="82.83" cy="269.16" r="2.3" fill="url(#mk1)" stroke="#3a3420" stroke-width="0.8"/>
<circle cx="91.56" cy="259.88" r="2.3" fill="url(#mk1)" stroke="#3a3420" stroke-width="0.8"/>
<circle cx="100.28" cy="250.89" r="2.3" fill="url(#mk1)" stroke="#3a3420" stroke-width="0.8"/>
<circle cx="119.20" cy="239.51" r="2.3" fill="url(#mk1)" stroke="#3a3420" stroke-width="0.8"/>
<circle cx="146.48" cy="225.44" r="2.3" fill="url(#mk1)" stroke="#3a3420" stroke-width="0.8"/>
<circle cx="183.58" cy="207.47" r="2.5" fill="#e8dcb0" stroke="#8a8060" stroke-width="0.8"/>
<polyline points="61.00,300.60 65.36,300.45 69.73,300.45 74.09,300.36 82.83,300.30 91.56,300.24 100.28,300.15 119.20,300.00 146.48,299.70 184.68,299.25" fill="none" stroke="#ec5a5a" stroke-width="1.45"/>
<circle cx="61.00" cy="300.60" r="2.7" fill="url(#mk2)"/>
<circle cx="65.36" cy="300.45" r="2.7" fill="url(#mk2)"/>
<circle cx="69.73" cy="300.45" r="2.7" fill="url(#mk2)"/>
<circle cx="74.09" cy="300.36" r="2.7" fill="url(#mk2)"/>
<circle cx="82.83" cy="300.30" r="2.7" fill="url(#mk2)"/>
<circle cx="91.56" cy="300.24" r="2.7" fill="url(#mk2)"/>
<circle cx="100.28" cy="300.15" r="2.7" fill="url(#mk2)"/>
<circle cx="119.20" cy="300.00" r="2.7" fill="url(#mk2)"/>
<circle cx="146.48" cy="299.70" r="2.7" fill="url(#mk2)"/>
<circle cx="184.68" cy="299.25" r="2.7" fill="url(#mk2)"/>
<line x1="101.90" y1="269.60" x2="122.00" y2="269.60" stroke="#4a4028" stroke-width="1.45" />
<circle cx="111.7" cy="269.6" r="2.3" fill="url(#mk1)" stroke="#3a3420" stroke-width="0.8"/>
<text x="124.30" y="272.70" font-size="8.6" font-weight="bold" fill="#000" text-anchor="start" >MPR (XAD-1180N)</text>
<line x1="101.90" y1="280.60" x2="122.00" y2="280.60" stroke="#ec5a5a" stroke-width="1.45" />
<circle cx="111.7" cy="280.6" r="2.7" fill="url(#mk2)"/>
<text x="124.30" y="283.70" font-size="8.6" font-weight="bold" fill="#000" text-anchor="start" >Non-porous PS</text>
<text x="255.00" y="181.50" font-size="14" font-weight="bold" fill="#000" text-anchor="start" >C</text>
<rect x="324.10" y="226.62" width="11.1" height="87.68" fill="#a244f8"/>
<line x1="324.10" y1="226.82" x2="324.10" y2="314.30" stroke="#6a2aa0" stroke-width="0.5" />
<line x1="324.10" y1="227.22" x2="335.20" y2="227.22" stroke="#2a1038" stroke-width="1.2" />
<line x1="334.80" y1="226.62" x2="334.80" y2="314.30" stroke="#2a1038" stroke-width="1.0" />
<rect x="339.54" y="223.92" width="11.1" height="90.38" fill="#a244f8"/>
<line x1="339.54" y1="224.12" x2="339.54" y2="314.30" stroke="#6a2aa0" stroke-width="0.5" />
<line x1="339.54" y1="224.52" x2="350.64" y2="224.52" stroke="#2a1038" stroke-width="1.2" />
<line x1="350.24" y1="223.92" x2="350.24" y2="314.30" stroke="#2a1038" stroke-width="1.0" />
<rect x="354.98" y="224.43" width="11.1" height="89.87" fill="#a244f8"/>
<line x1="354.98" y1="224.63" x2="354.98" y2="314.30" stroke="#6a2aa0" stroke-width="0.5" />
<line x1="354.98" y1="225.03" x2="366.08" y2="225.03" stroke="#2a1038" stroke-width="1.2" />
<line x1="365.68" y1="224.43" x2="365.68" y2="314.30" stroke="#2a1038" stroke-width="1.0" />
<rect x="370.42" y="222.58" width="11.1" height="91.72" fill="#a244f8"/>
<line x1="370.42" y1="222.78" x2="370.42" y2="314.30" stroke="#6a2aa0" stroke-width="0.5" />
<line x1="370.42" y1="223.18" x2="381.52" y2="223.18" stroke="#2a1038" stroke-width="1.2" />
<line x1="381.12" y1="222.58" x2="381.12" y2="314.30" stroke="#2a1038" stroke-width="1.0" />
<rect x="385.86" y="223.92" width="11.1" height="90.38" fill="#a244f8"/>
<line x1="385.86" y1="224.12" x2="385.86" y2="314.30" stroke="#6a2aa0" stroke-width="0.5" />
<line x1="385.86" y1="224.52" x2="396.96" y2="224.52" stroke="#2a1038" stroke-width="1.2" />
<line x1="396.56" y1="223.92" x2="396.56" y2="314.30" stroke="#2a1038" stroke-width="1.0" />
<rect x="401.30" y="226.12" width="11.1" height="88.18" fill="#a244f8"/>
<line x1="401.30" y1="226.32" x2="401.30" y2="314.30" stroke="#6a2aa0" stroke-width="0.5" />
<line x1="401.30" y1="226.72" x2="412.40" y2="226.72" stroke="#2a1038" stroke-width="1.2" />
<line x1="412.00" y1="226.12" x2="412.00" y2="314.30" stroke="#2a1038" stroke-width="1.0" />
<rect x="416.74" y="216.67" width="11.1" height="97.63" fill="#a244f8"/>
<line x1="416.74" y1="216.87" x2="416.74" y2="314.30" stroke="#6a2aa0" stroke-width="0.5" />
<line x1="416.74" y1="217.27" x2="427.84" y2="217.27" stroke="#2a1038" stroke-width="1.2" />
<line x1="427.44" y1="216.67" x2="427.44" y2="314.30" stroke="#2a1038" stroke-width="1.0" />
<rect x="432.18" y="223.42" width="11.1" height="90.88" fill="#a244f8"/>
<line x1="432.18" y1="223.62" x2="432.18" y2="314.30" stroke="#6a2aa0" stroke-width="0.5" />
<line x1="432.18" y1="224.02" x2="443.28" y2="224.02" stroke="#2a1038" stroke-width="1.2" />
<line x1="442.88" y1="223.42" x2="442.88" y2="314.30" stroke="#2a1038" stroke-width="1.0" />
<rect x="447.62" y="220.38" width="11.1" height="93.92" fill="#a244f8"/>
<line x1="447.62" y1="220.58" x2="447.62" y2="314.30" stroke="#6a2aa0" stroke-width="0.5" />
<line x1="447.62" y1="220.98" x2="458.72" y2="220.98" stroke="#2a1038" stroke-width="1.2" />
<line x1="458.32" y1="220.38" x2="458.32" y2="314.30" stroke="#2a1038" stroke-width="1.0" />
<rect x="315.7" y="192.4" width="151.40" height="121.90" fill="none" stroke="#111" stroke-width="1.3"/>
<line x1="315.70" y1="314.30" x2="318.50" y2="314.30" stroke="#111" stroke-width="1" />
<text x="311.90" y="318.30" font-size="10.3" font-weight="bold" fill="#000" text-anchor="end" >0.00</text>
<line x1="315.70" y1="283.95" x2="318.50" y2="283.95" stroke="#111" stroke-width="1" />
<text x="311.90" y="287.95" font-size="10.3" font-weight="bold" fill="#000" text-anchor="end" >0.18</text>
<line x1="315.70" y1="253.60" x2="318.50" y2="253.60" stroke="#111" stroke-width="1" />
<text x="311.90" y="257.60" font-size="10.3" font-weight="bold" fill="#000" text-anchor="end" >0.36</text>
<line x1="315.70" y1="223.25" x2="318.50" y2="223.25" stroke="#111" stroke-width="1" />
<text x="311.90" y="227.25" font-size="10.3" font-weight="bold" fill="#000" text-anchor="end" >0.54</text>
<line x1="315.70" y1="192.90" x2="318.50" y2="192.90" stroke="#111" stroke-width="1" />
<text x="311.90" y="196.90" font-size="10.3" font-weight="bold" fill="#000" text-anchor="end" >0.72</text>
<line x1="329.60" y1="314.30" x2="329.60" y2="311.80" stroke="#301040" stroke-width="1" />
<text x="329.60" y="326.40" font-size="10.5" font-weight="bold" fill="#000" text-anchor="middle" >1</text>
<line x1="345.04" y1="314.30" x2="345.04" y2="311.80" stroke="#301040" stroke-width="1" />
<text x="345.04" y="326.40" font-size="10.5" font-weight="bold" fill="#000" text-anchor="middle" >2</text>
<line x1="360.48" y1="314.30" x2="360.48" y2="311.80" stroke="#301040" stroke-width="1" />
<text x="360.48" y="326.40" font-size="10.5" font-weight="bold" fill="#000" text-anchor="middle" >3</text>
<line x1="375.92" y1="314.30" x2="375.92" y2="311.80" stroke="#301040" stroke-width="1" />
<text x="375.92" y="326.40" font-size="10.5" font-weight="bold" fill="#000" text-anchor="middle" >4</text>
<line x1="391.36" y1="314.30" x2="391.36" y2="311.80" stroke="#301040" stroke-width="1" />
<text x="391.36" y="326.40" font-size="10.5" font-weight="bold" fill="#000" text-anchor="middle" >5</text>
<line x1="406.80" y1="314.30" x2="406.80" y2="311.80" stroke="#301040" stroke-width="1" />
<text x="406.80" y="326.40" font-size="10.5" font-weight="bold" fill="#000" text-anchor="middle" >6</text>
<line x1="422.24" y1="314.30" x2="422.24" y2="311.80" stroke="#301040" stroke-width="1" />
<text x="422.24" y="326.40" font-size="10.5" font-weight="bold" fill="#000" text-anchor="middle" >7</text>
<line x1="437.68" y1="314.30" x2="437.68" y2="311.80" stroke="#301040" stroke-width="1" />
<text x="437.68" y="326.40" font-size="10.5" font-weight="bold" fill="#000" text-anchor="middle" >8</text>
<line x1="453.12" y1="314.30" x2="453.12" y2="311.80" stroke="#301040" stroke-width="1" />
<text x="453.12" y="326.40" font-size="10.5" font-weight="bold" fill="#000" text-anchor="middle" >9</text>
<text x="392.50" y="340.60" font-size="10.9" font-weight="bold" fill="#000" text-anchor="middle" >Run times</text>
<g transform="translate(271.9 313.8) rotate(-90)"><text x="0" y="0" font-size="11" font-weight="bold">Generation rate of H<tspan font-size="7.8" dy="2.5">2</tspan><tspan dy="-2.5">O</tspan><tspan font-size="7.8" dy="2.5">2</tspan></text></g>
<g transform="translate(283.4 279.6) rotate(-90)"><text x="0" y="0" font-size="11" font-weight="bold">(μmol/g/h)</text></g>
<text x="322.20" y="210.10" font-size="10.8" font-weight="bold" fill="#c48cf6" text-anchor="start" >MPR(XAD-1180N)</text>
<text x="475.50" y="10.60" font-size="14" font-weight="bold" fill="#000" text-anchor="start" >D</text>
<defs><linearGradient id="ph" x1="0" y1="0" x2="0" y2="1"><stop offset="0" stop-color="#626262"/><stop offset="1" stop-color="#454545"/></linearGradient><linearGradient id="vial" x1="0" y1="0" x2="1" y2="0"><stop offset="0" stop-color="#c8c8c8"/><stop offset="0.5" stop-color="#f2f2f2"/><stop offset="1" stop-color="#b8b8b8"/></linearGradient><linearGradient id="cap" x1="0" y1="0" x2="1" y2="0"><stop offset="0" stop-color="#111"/><stop offset="0.5" stop-color="#333"/><stop offset="1" stop-color="#0a0a0a"/></linearGradient><radialGradient id="mkp" cx="0.4" cy="0.35" r="0.7"><stop offset="0" stop-color="#e8c8ff"/><stop offset="0.6" stop-color="#b070ff"/><stop offset="1" stop-color="#8a30f0"/></radialGradient></defs>
<rect x="537.2" y="51.6" width="60.2" height="48.8" fill="#262626"/>
<rect x="536.3" y="50.7" width="59.8" height="48.6" fill="url(#ph)"/>
<rect x="540.00" y="66.5" width="13.60" height="29.6" rx="1.8" fill="#9c9c9c"/>
<rect x="540.50" y="66.8" width="12.40" height="11" fill="#c4c4c4"/>
<rect x="540.50" y="77.5" width="12.40" height="17.6" rx="1.6" fill="#f2f2f2"/>
<rect x="541.10" y="93.2" width="11.20" height="1.6" fill="#e8e0c8"/>
<rect x="539.60" y="53.2" width="14.20" height="13.7" rx="2.2" fill="#161616"/>
<ellipse cx="546.70" cy="55.6" rx="6.50" ry="2.6" fill="#8e8e8e"/>
<ellipse cx="546.70" cy="55.2" rx="4.90" ry="1.3" fill="#b0b0b0"/>
<line x1="541.40" y1="58" x2="541.40" y2="66.5" stroke="#2c2c2c" stroke-width="0.6"/>
<line x1="544.00" y1="58" x2="544.00" y2="66.5" stroke="#2c2c2c" stroke-width="0.6"/>
<line x1="546.60" y1="58" x2="546.60" y2="66.5" stroke="#2c2c2c" stroke-width="0.6"/>
<line x1="549.20" y1="58" x2="549.20" y2="66.5" stroke="#2c2c2c" stroke-width="0.6"/>
<line x1="551.80" y1="58" x2="551.80" y2="66.5" stroke="#2c2c2c" stroke-width="0.6"/>
<rect x="559.80" y="66.5" width="13.60" height="29.6" rx="1.8" fill="#9c9c9c"/>
<rect x="560.30" y="66.8" width="12.40" height="5.6" fill="#b4b4b4"/>
<rect x="560.30" y="72.3" width="12.40" height="10" fill="#f6f6f6"/>
<rect x="560.30" y="82.3" width="12.40" height="12.8" rx="1.6" fill="#b0b0b0"/>
<rect x="562.40" y="83" width="8.20" height="11" fill="#c8c8c8"/>
<rect x="560.90" y="93.2" width="11.20" height="1.6" fill="#e0d8c0"/>
<rect x="559.40" y="53.2" width="14.20" height="13.7" rx="2.2" fill="#161616"/>
<ellipse cx="566.50" cy="55.6" rx="6.50" ry="2.6" fill="#8e8e8e"/>
<ellipse cx="566.50" cy="55.2" rx="4.90" ry="1.3" fill="#b0b0b0"/>
<line x1="561.20" y1="58" x2="561.20" y2="66.5" stroke="#2c2c2c" stroke-width="0.6"/>
<line x1="563.80" y1="58" x2="563.80" y2="66.5" stroke="#2c2c2c" stroke-width="0.6"/>
<line x1="566.40" y1="58" x2="566.40" y2="66.5" stroke="#2c2c2c" stroke-width="0.6"/>
<line x1="569.00" y1="58" x2="569.00" y2="66.5" stroke="#2c2c2c" stroke-width="0.6"/>
<line x1="571.60" y1="58" x2="571.60" y2="66.5" stroke="#2c2c2c" stroke-width="0.6"/>
<rect x="579.00" y="66.5" width="13.60" height="29.6" rx="1.8" fill="#9c9c9c"/>
<rect x="579.50" y="66.8" width="12.40" height="9" fill="#bcbcbc"/>
<rect x="579.50" y="75.5" width="12.40" height="19.6" rx="1.6" fill="#e8e8e8"/>
<rect x="578.60" y="53.2" width="14.20" height="13.7" rx="2.2" fill="#161616"/>
<ellipse cx="585.70" cy="55.6" rx="6.50" ry="2.6" fill="#8e8e8e"/>
<ellipse cx="585.70" cy="55.2" rx="4.90" ry="1.3" fill="#b0b0b0"/>
<line x1="580.40" y1="58" x2="580.40" y2="66.5" stroke="#2c2c2c" stroke-width="0.6"/>
<line x1="583.00" y1="58" x2="583.00" y2="66.5" stroke="#2c2c2c" stroke-width="0.6"/>
<line x1="585.60" y1="58" x2="585.60" y2="66.5" stroke="#2c2c2c" stroke-width="0.6"/>
<line x1="588.20" y1="58" x2="588.20" y2="66.5" stroke="#2c2c2c" stroke-width="0.6"/>
<line x1="590.80" y1="58" x2="590.80" y2="66.5" stroke="#2c2c2c" stroke-width="0.6"/>
<circle cx="548" cy="91.6" r="2.7" fill="#8a34dc"/>
<circle cx="565.8" cy="91.2" r="2.7" fill="#000"/>
<circle cx="585" cy="91.4" r="2.6" fill="#b00000"/>
<rect x="529.8" y="20.1" width="150.50" height="120.90" fill="none" stroke="#111" stroke-width="1.3"/>
<line x1="529.80" y1="141.00" x2="532.80" y2="141.00" stroke="#111" stroke-width="0.9" />
<text x="524.50" y="143.50" font-size="9.8" font-weight="bold" fill="#000" text-anchor="end" >0.0</text>
<line x1="529.80" y1="110.78" x2="532.80" y2="110.78" stroke="#111" stroke-width="0.9" />
<text x="524.50" y="113.28" font-size="9.8" font-weight="bold" fill="#000" text-anchor="end" >0.3</text>
<line x1="529.80" y1="80.55" x2="532.80" y2="80.55" stroke="#111" stroke-width="0.9" />
<text x="524.50" y="83.05" font-size="9.8" font-weight="bold" fill="#000" text-anchor="end" >0.6</text>
<line x1="529.80" y1="50.33" x2="532.80" y2="50.33" stroke="#111" stroke-width="0.9" />
<text x="524.50" y="52.83" font-size="9.8" font-weight="bold" fill="#000" text-anchor="end" >0.9</text>
<line x1="529.80" y1="20.10" x2="532.80" y2="20.10" stroke="#111" stroke-width="0.9" />
<text x="524.50" y="22.60" font-size="9.8" font-weight="bold" fill="#000" text-anchor="end" >1.2</text>
<line x1="536.20" y1="141.00" x2="536.20" y2="138.00" stroke="#111" stroke-width="0.9" />
<text x="536.20" y="153.90" font-size="9.9" font-weight="bold" fill="#000" text-anchor="middle" >0</text>
<line x1="570.35" y1="141.00" x2="570.35" y2="138.00" stroke="#111" stroke-width="0.9" />
<text x="570.35" y="153.90" font-size="9.9" font-weight="bold" fill="#000" text-anchor="middle" >1</text>
<line x1="604.50" y1="141.00" x2="604.50" y2="138.00" stroke="#111" stroke-width="0.9" />
<text x="604.50" y="153.90" font-size="9.9" font-weight="bold" fill="#000" text-anchor="middle" >2</text>
<line x1="638.65" y1="141.00" x2="638.65" y2="138.00" stroke="#111" stroke-width="0.9" />
<text x="638.65" y="153.90" font-size="9.9" font-weight="bold" fill="#000" text-anchor="middle" >3</text>
<line x1="672.80" y1="141.00" x2="672.80" y2="138.00" stroke="#111" stroke-width="0.9" />
<text x="672.80" y="153.90" font-size="9.9" font-weight="bold" fill="#000" text-anchor="middle" >4</text>
<text x="610.30" y="166.90" font-size="10.9" font-weight="bold" fill="#000" text-anchor="middle" >Stirring time (h)</text>
<g transform="translate(502 156) rotate(-90)"><text x="0" y="0" font-size="10.9" font-weight="bold">Scattering Intensity (450 nm)</text></g>
<polyline points="536.20,38.23 570.35,43.78 604.50,42.26 638.65,40.75 672.80,40.25" fill="none" stroke="#8b1414" stroke-width="1.4"/>
<polygon points="532.40,35.23 540.00,35.23 536.20,41.83" fill="#8b1414"/>
<polygon points="566.55,40.78 574.15,40.78 570.35,47.38" fill="#8b1414"/>
<polygon points="600.70,39.26 608.30,39.26 604.50,45.86" fill="#8b1414"/>
<polygon points="634.85,37.75 642.45,37.75 638.65,44.35" fill="#8b1414"/>
<polygon points="669.00,37.25 676.60,37.25 672.80,43.85" fill="#8b1414"/>
<polyline points="536.20,131.93 570.35,131.43 604.50,131.93 638.65,131.93 672.80,131.43" fill="none" stroke="#000" stroke-width="1.4"/>
<rect x="533.50" y="129.23" width="5.4" height="5.4" fill="#000"/>
<rect x="567.65" y="128.73" width="5.4" height="5.4" fill="#000"/>
<rect x="601.80" y="129.23" width="5.4" height="5.4" fill="#000"/>
<rect x="635.95" y="129.23" width="5.4" height="5.4" fill="#000"/>
<rect x="670.10" y="128.73" width="5.4" height="5.4" fill="#000"/>
<polyline points="536.20,131.93 570.35,130.42 604.50,95.66 638.65,31.18 672.80,34.20" fill="none" stroke="#8a2be2" stroke-width="1.4"/>
<circle cx="536.20" cy="131.93" r="3" fill="url(#mkp)" stroke="#8a2be2" stroke-width="0.9"/>
<circle cx="570.35" cy="130.42" r="3" fill="url(#mkp)" stroke="#8a2be2" stroke-width="0.9"/>
<circle cx="604.50" cy="95.66" r="3" fill="url(#mkp)" stroke="#8a2be2" stroke-width="0.9"/>
<circle cx="638.65" cy="31.18" r="3" fill="url(#mkp)" stroke="#8a2be2" stroke-width="0.9"/>
<circle cx="672.80" cy="34.20" r="3" fill="url(#mkp)" stroke="#8a2be2" stroke-width="0.9"/>
<line x1="629.30" y1="79.20" x2="646.70" y2="79.20" stroke="#8a2be2" stroke-width="1.4" />
<circle cx="638" cy="79.2" r="3" fill="url(#mkp)" stroke="#8a2be2" stroke-width="0.9"/>
<text x="648.30" y="82.00" font-size="7.4" font-weight="bold" fill="#000" text-anchor="start" >MPRs</text>
<line x1="629.30" y1="88.40" x2="646.70" y2="88.40" stroke="#000" stroke-width="1.4" />
<rect x="635.4" y="85.7" width="5.4" height="5.4" fill="#000"/>
<text x="648.30" y="91.20" font-size="7.4" font-weight="bold" fill="#000" text-anchor="start" >PTFE</text>
<line x1="629.30" y1="97.40" x2="646.70" y2="97.40" stroke="#8b1414" stroke-width="1.4" />
<polygon points="634.2,94.6 641.8,94.6 638,101" fill="#8b1414"/>
<text x="648.30" y="100.20" font-size="7.4" font-weight="bold" fill="#000" text-anchor="start" >SiO<tspan font-size="5.2" dy="1.6">2</tspan></text>
<text x="475.30" y="181.40" font-size="14" font-weight="bold" fill="#000" text-anchor="start" >E</text>
<rect x="529.5" y="193.5" width="150.10" height="120.10" fill="none" stroke="#111" stroke-width="1.3"/>
<line x1="529.50" y1="302.80" x2="532.00" y2="302.80" stroke="#111" stroke-width="1" />
<text x="525.70" y="306.80" font-size="10.3" font-weight="bold" fill="#000" text-anchor="end" >0.00</text>
<line x1="529.50" y1="275.73" x2="532.00" y2="275.73" stroke="#111" stroke-width="1" />
<text x="525.70" y="279.73" font-size="10.3" font-weight="bold" fill="#000" text-anchor="end" >0.15</text>
<line x1="529.50" y1="248.65" x2="532.00" y2="248.65" stroke="#111" stroke-width="1" />
<text x="525.70" y="252.65" font-size="10.3" font-weight="bold" fill="#000" text-anchor="end" >0.30</text>
<line x1="529.50" y1="221.58" x2="532.00" y2="221.58" stroke="#111" stroke-width="1" />
<text x="525.70" y="225.58" font-size="10.3" font-weight="bold" fill="#000" text-anchor="end" >0.45</text>
<line x1="529.50" y1="194.50" x2="532.00" y2="194.50" stroke="#111" stroke-width="1" />
<text x="525.70" y="198.50" font-size="10.3" font-weight="bold" fill="#000" text-anchor="end" >0.60</text>
<line x1="538.00" y1="313.60" x2="538.00" y2="311.10" stroke="#111" stroke-width="1" />
<text x="538.00" y="325.60" font-size="10.5" font-weight="bold" fill="#000" text-anchor="middle" >0</text>
<line x1="573.40" y1="313.60" x2="573.40" y2="311.10" stroke="#111" stroke-width="1" />
<text x="573.40" y="325.60" font-size="10.5" font-weight="bold" fill="#000" text-anchor="middle" >4</text>
<line x1="608.80" y1="313.60" x2="608.80" y2="311.10" stroke="#111" stroke-width="1" />
<text x="608.80" y="325.60" font-size="10.5" font-weight="bold" fill="#000" text-anchor="middle" >8</text>
<line x1="644.20" y1="313.60" x2="644.20" y2="311.10" stroke="#111" stroke-width="1" />
<text x="644.20" y="325.60" font-size="10.5" font-weight="bold" fill="#000" text-anchor="middle" >12</text>
<line x1="679.60" y1="313.60" x2="679.60" y2="311.10" stroke="#111" stroke-width="1" />
<text x="679.60" y="325.60" font-size="10.5" font-weight="bold" fill="#000" text-anchor="middle" >16</text>
<text x="609.40" y="339.60" font-size="10.9" font-weight="bold" fill="#000" text-anchor="middle" >Surface area (m<tspan font-size="7" dy="-3.5">2</tspan><tspan dy="3.5">/20 mg)</tspan></text>
<g transform="translate(491.3 312.4) rotate(-90)"><text x="0" y="0" font-size="11" font-weight="bold">Generation rate of H<tspan font-size="7.8" dy="2.5">2</tspan><tspan dy="-2.5">O</tspan><tspan font-size="7.8" dy="2.5">2</tspan></text></g>
<g transform="translate(503.1 279.6) rotate(-90)"><text x="0" y="0" font-size="11" font-weight="bold">(μmol/g/h)</text></g>
<defs><radialGradient id="mkb" cx="0.4" cy="0.35" r="0.7"><stop offset="0" stop-color="#f0faff"/><stop offset="0.3" stop-color="#48c0ff"/><stop offset="0.8" stop-color="#1590f0"/><stop offset="1" stop-color="#0a78d8"/></radialGradient></defs>
<circle cx="538" cy="302.9" r="3.4" fill="url(#mkb)"/>
<circle cx="583.6" cy="261.9" r="3.4" fill="url(#mkb)"/>
<circle cx="610.2" cy="237" r="3.4" fill="url(#mkb)"/>
<circle cx="617.4" cy="231.9" r="3.4" fill="url(#mkb)"/>
<circle cx="630.1" cy="209.3" r="3.4" fill="url(#mkb)"/>
<circle cx="645.1" cy="208.3" r="3.4" fill="url(#mkb)"/>
<circle cx="641" cy="231.5" r="3.4" fill="url(#mkb)"/>
<circle cx="659.4" cy="210.4" r="3.4" fill="url(#mkb)"/>
<circle cx="663.9" cy="204.2" r="3.4" fill="url(#mkb)"/>
<line x1="538.00" y1="302.90" x2="664.50" y2="198.70" stroke="#000" stroke-width="1.8" />
<circle cx="630.1" cy="207.9" r="6.6" fill="none" stroke="#111" stroke-width="1.25" stroke-dasharray="2.6 1.5"/>
<circle cx="660" cy="207.7" r="6.2" fill="none" stroke="#111" stroke-width="1.25" stroke-dasharray="2.6 1.5"/>
<circle cx="616.8" cy="229.4" r="6.2" fill="none" stroke="#111" stroke-width="1.25" stroke-dasharray="2.6 1.5"/>
<line x1="621.5" y1="206" x2="611" y2="205.2" stroke="#111" stroke-width="1.1"/><polygon points="607.7,205 612.2,203 612,207.4" fill="#111"/>
<line x1="660" y1="214.5" x2="661" y2="226.5" stroke="#111" stroke-width="1.1"/><polygon points="661.5,230.4 659,225.8 663.4,225.6" fill="#111"/>
<line x1="624.6" y1="237" x2="630.5" y2="243.6" stroke="#111" stroke-width="1.1"/><polygon points="633.2,246.6 628.2,244.6 631.6,241.6" fill="#111"/>
<text x="604.80" y="207.60" font-size="8.8" font-weight="bold" fill="#7535b8" text-anchor="end" >XAD-1180N</text>
<text x="661.50" y="240.40" font-size="8.8" font-weight="bold" fill="#7535b8" text-anchor="middle" >XAD-4</text>
<text x="639.70" y="257.10" font-size="8.8" font-weight="bold" fill="#7535b8" text-anchor="middle" >D101</text>
</svg></body></html>
